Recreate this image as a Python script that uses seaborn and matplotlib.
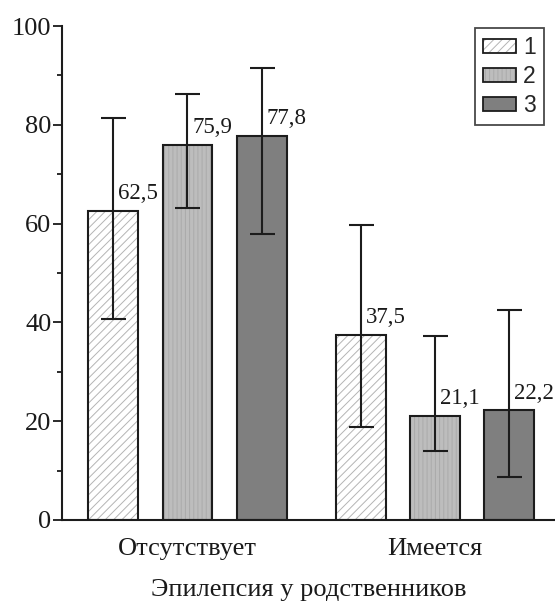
import numpy as np
import pandas as pd
import matplotlib
matplotlib.use("Agg")
import matplotlib.pyplot as plt
import seaborn as sns
from matplotlib.patches import Patch, Rectangle
from matplotlib.legend_handler import HandlerTuple
from matplotlib.ticker import MultipleLocator

# -----------------------------
# DATA
# -----------------------------
groups = ["Отсутствует", "Имеется"]
series = ["1", "2", "3"]
values_1 = [62.5, 37.5]
values_2 = [75.9, 21.1]
values_3 = [77.8, 22.2]
lower_1 = [40.7, 18.9]
lower_2 = [63.1, 14.0]
lower_3 = [57.9, 8.7]
upper_1 = [81.3, 59.7]
upper_2 = [86.2, 37.2]
upper_3 = [91.6, 42.5]
labels_1 = ["62,5", "37,5"]
labels_2 = ["75,9", "21,1"]
labels_3 = ["77,8", "22,2"]

x_title = "Эпилепсия у родственников"

# -----------------------------
# STYLE
# -----------------------------
sns.set_theme(style="ticks")
plt.rcParams["font.family"] = ["Liberation Serif", "DejaVu Serif"]
plt.rcParams["hatch.linewidth"] = 0.7

fill_colors = ["#ffffff", "#bdbdbd", "#7f7f7f"]
hatch_colors = ["#b4b4b4", "#aaaaaa", "#7f7f7f"]
hatches = ["////", "||||", ""]
edge = "#1c1c1c"

rows = []
for s, vals, lo, hi, lab in zip(series,
                                [values_1, values_2, values_3],
                                [lower_1, lower_2, lower_3],
                                [upper_1, upper_2, upper_3],
                                [labels_1, labels_2, labels_3]):
    for g, v, l, h, t in zip(groups, vals, lo, hi, lab):
        rows.append({"group": g, "series": s, "value": v, "lo": l, "hi": h, "label": t})
df = pd.DataFrame(rows)

fig = plt.figure(figsize=(5.55, 6.01), dpi=100)
ax = fig.add_axes([0.1117, 0.1348, 0.8883, 0.8219])

sns.barplot(data=df, x="group", y="value", hue="series", order=groups, hue_order=series,
            palette=fill_colors, width=0.9, gap=0.33, errorbar=None,
            edgecolor=edge, linewidth=1.5, legend=False, ax=ax)

# hatches with grey lines + black outline on top
bar_containers = list(ax.containers)
for i, cont in enumerate(bar_containers):
    sub = df[df["series"] == series[i]].set_index("group").loc[groups]
    for p, (_, r) in zip(cont.patches, sub.iterrows()):
        p.set_hatch(hatches[i])
        p.set_edgecolor(hatch_colors[i])
        p.set_linewidth(0)
        ax.add_patch(Rectangle((p.get_x(), p.get_y()), p.get_width(), p.get_height(),
                               fill=False, edgecolor=edge, linewidth=1.5, zorder=p.get_zorder() + 0.1))
        cx = p.get_x() + p.get_width() / 2
        ax.errorbar(cx, r["value"], yerr=[[r["value"] - r["lo"]], [r["hi"] - r["value"]]],
                    fmt="none", ecolor=edge, elinewidth=1.5, capsize=9, capthick=1.5, zorder=5)
        ax.annotate(r["label"], (cx, r["value"]), xytext=(3.5, 8.5), textcoords="offset points",
                    ha="left", va="baseline", fontsize=16.5, color="#1a1a1a")

ax.set_ylim(0, 100)
ax.set_xlim(-0.507, 1.485)
ax.yaxis.set_major_locator(MultipleLocator(20))
ax.yaxis.set_minor_locator(MultipleLocator(10))
ax.tick_params(axis="y", which="major", length=6.5, width=1.3, pad=1, labelsize=19, colors="#1a1a1a")
ax.tick_params(axis="y", which="minor", length=3.5, width=1.3, colors="#1a1a1a")
ax.tick_params(axis="x", length=0, pad=13, labelsize=19, colors="#1a1a1a")
ax.set_xlabel(x_title, fontsize=19, labelpad=14, color="#1a1a1a")
ax.set_ylabel("")
for side in ["top", "right"]:
    ax.spines[side].set_visible(False)
for side in ["left", "bottom"]:
    ax.spines[side].set_linewidth(1.5)
    ax.spines[side].set_color(edge)

# legend
handles = []
for i in range(3):
    back = Patch(facecolor=fill_colors[i], edgecolor=hatch_colors[i], hatch=hatches[i], linewidth=0)
    front = Patch(facecolor="none", edgecolor=edge, linewidth=1.3)
    handles.append((back, front))
leg = fig.legend(handles, series, handler_map={tuple: HandlerTuple(ndivide=1, pad=0)},
                 loc="upper right", bbox_to_anchor=(0.98, 0.953), frameon=True, fancybox=False,
                 prop={"family": "Liberation Sans", "size": 16.5}, handlelength=1.45, handleheight=0.57,
                 labelspacing=0.25, handletextpad=0.3, borderpad=0.35, borderaxespad=0)
leg.get_frame().set_edgecolor(edge)
leg.get_frame().set_linewidth(1.3)

fig.savefig("out.png", dpi=100)
